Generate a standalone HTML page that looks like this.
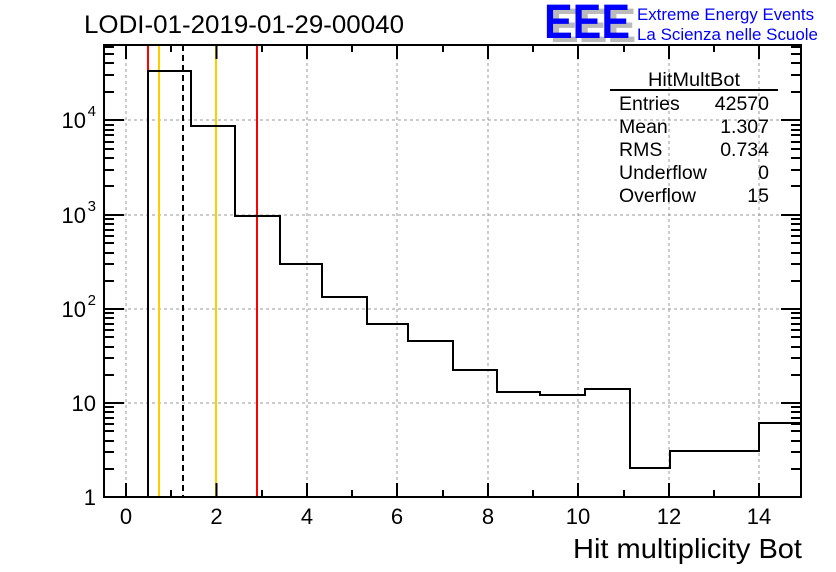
<!DOCTYPE html>
<html><head><style>body{margin:0;background:#fff}svg{display:block}text{font-family:"Liberation Sans",sans-serif}</style></head><body>
<svg width="836" height="572" viewBox="0 0 836 572" xmlns="http://www.w3.org/2000/svg">
<rect width="836" height="572" fill="#fff"/>
<g stroke="#999" stroke-dasharray="3,3" stroke-width="1">
<line x1="126" y1="45" x2="126" y2="497"/><line x1="216.5" y1="45" x2="216.5" y2="497"/><line x1="307" y1="45" x2="307" y2="497"/><line x1="397" y1="45" x2="397" y2="497"/><line x1="488" y1="45" x2="488" y2="497"/><line x1="578" y1="45" x2="578" y2="497"/><line x1="669" y1="45" x2="669" y2="497"/><line x1="759" y1="45" x2="759" y2="497"/>
<line x1="104" y1="403" x2="801" y2="403"/><line x1="104" y1="309" x2="801" y2="309"/><line x1="104" y1="215" x2="801" y2="215"/><line x1="104" y1="120" x2="801" y2="120"/>
</g>
<g stroke-width="2">
<line x1="148" y1="45" x2="148" y2="497" stroke="#f00"/><line x1="257" y1="45" x2="257" y2="497" stroke="#f00"/>
<line x1="159" y1="45" x2="159" y2="497" stroke="#fc0"/><line x1="216" y1="45" x2="216" y2="497" stroke="#fc0"/>
<line x1="183" y1="45" x2="183" y2="497" stroke="#000" stroke-dasharray="6,4"/>
</g>
<path d="M148,497 V71 H191 V126 H235 V216 H280 V264 H322 V297 H367 V324 H408 V341 H453 V370 H497 V392 H540 V395 H585 V389 H630 V468 H670 V451 H759 V423 H801" fill="none" stroke="#000" stroke-width="2"/>
<rect x="104" y="45" width="697" height="452" fill="none" stroke="#000" stroke-width="2"/>
<g stroke="#000" stroke-width="2">
<path d="M126,497v-14M171,497v-7M216.5,497v-14M262,497v-7M307,497v-14M352,497v-7M397,497v-14M443,497v-7M488,497v-14M533,497v-7M578,497v-14M624,497v-7M669,497v-14M714,497v-7M759,497v-14"/>
<path d="M126,45v14M171,45v7M216.5,45v14M262,45v7M307,45v14M352,45v7M397,45v14M443,45v7M488,45v14M533,45v7M578,45v14M624,45v7M669,45v14M714,45v7M759,45v14"/>
<path d="M104,497h20M104,403h20M104,309h20M104,215h20M104,120h20M781,497h20M781,403h20M781,309h20M781,215h20M781,120h20"/>
<path d="M104,469h10M104,452h10M104,441h10M104,431h10M104,424h10M104,418h10M104,412h10M104,407h10
M104,375h10M104,358h10M104,347h10M104,337h10M104,330h10M104,324h10M104,318h10M104,313h10
M104,281h10M104,264h10M104,253h10M104,243h10M104,236h10M104,230h10M104,224h10M104,219h10
M104,186h10M104,170h10M104,158h10M104,149h10M104,142h10M104,135h10M104,130h10M104,125h10
M104,92h10M104,75h10M104,63h10M104,54h10M104,47h10"/>
<path d="M791,469h10M791,452h10M791,441h10M791,431h10M791,424h10M791,418h10M791,412h10M791,407h10
M791,375h10M791,358h10M791,347h10M791,337h10M791,330h10M791,324h10M791,318h10M791,313h10
M791,281h10M791,264h10M791,253h10M791,243h10M791,236h10M791,230h10M791,224h10M791,219h10
M791,186h10M791,170h10M791,158h10M791,149h10M791,142h10M791,135h10M791,130h10M791,125h10
M791,92h10M791,75h10M791,63h10M791,54h10M791,47h10"/>
</g>
<g font-size="22" text-anchor="middle">
<text x="126" y="524">0</text><text x="216.5" y="524">2</text><text x="307" y="524">4</text><text x="397" y="524">6</text><text x="488" y="524">8</text><text x="578" y="524">10</text><text x="669" y="524">12</text><text x="759" y="524">14</text>
</g>
<g font-size="22" text-anchor="end">
<text x="96" y="505">1</text><text x="96" y="411">10</text>
<text x="86" y="317">10</text><text x="96" y="305" font-size="15">2</text>
<text x="86" y="223">10</text><text x="96" y="211" font-size="15">3</text>
<text x="86" y="128">10</text><text x="96" y="116" font-size="15">4</text>
</g>
<text x="802" y="558" font-size="28" text-anchor="end" textLength="229" lengthAdjust="spacingAndGlyphs">Hit multiplicity Bot</text>
<text x="84" y="33" font-size="25" textLength="320" lengthAdjust="spacingAndGlyphs">LODI-01-2019-01-29-00040</text>
<g font-size="48" font-weight="bold">
<text x="550" y="42" fill="#bbb" textLength="86" lengthAdjust="spacingAndGlyphs">EEE</text><text x="544" y="38" fill="#00f" textLength="86" lengthAdjust="spacingAndGlyphs">EEE</text>
</g>
<text x="637" y="20" font-size="17" fill="#00f" textLength="177" lengthAdjust="spacingAndGlyphs">Extreme Energy Events</text>
<text x="637" y="40" font-size="17" fill="#00f" textLength="181" lengthAdjust="spacingAndGlyphs">La Scienza nelle Scuole</text>
<text x="694" y="86" font-size="19" text-anchor="middle" textLength="92" lengthAdjust="spacingAndGlyphs">HitMultBot</text>
<line x1="610" y1="90" x2="778" y2="90" stroke="#000" stroke-width="2"/>
<g font-size="19.5">
<text x="619" y="110">Entries</text><text x="619" y="133">Mean</text><text x="619" y="156">RMS</text><text x="619" y="179">Underflow</text><text x="619" y="202">Overflow</text>
</g>
<g font-size="19.5" text-anchor="end">
<text x="769" y="110">42570</text><text x="769" y="133">1.307</text><text x="769" y="156">0.734</text><text x="769" y="179">0</text><text x="769" y="202">15</text>
</g>
</svg>
</body></html>
